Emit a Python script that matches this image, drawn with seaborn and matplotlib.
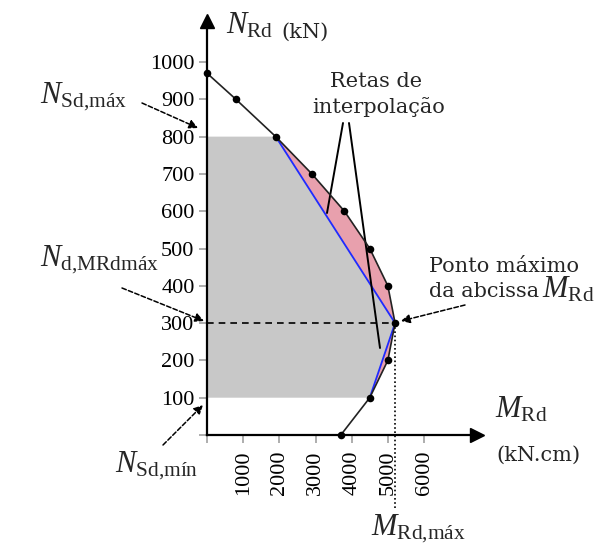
import matplotlib
matplotlib.use("Agg")
import matplotlib.pyplot as plt
import pandas as pd
import seaborn as sns

# Interaction curve N_Rd x M_Rd (M in kN.cm, N in kN)
M_Rd = [0, 800, 1900, 2900, 3800, 4500, 5000, 5200, 5000, 4500, 3700]
N_Rd = [970, 900, 800, 700, 600, 500, 400, 300, 200, 100, 0]

# Design axial force limits
N_Sd_max = 800
N_Sd_min = 100

x_ticks = [0, 1000, 2000, 3000, 4000, 5000, 6000]
x_tick_labels = ["", "1000", "2000", "3000", "4000", "5000", "6000"]
y_ticks = [0, 100, 200, 300, 400, 500, 600, 700, 800, 900, 1000]
y_tick_labels = ["", "100", "200", "300", "400", "500", "600", "700", "800", "900", "1000"]

sns.set_theme(style="ticks")
plt.rcParams["font.family"] = ["Liberation Serif", "DejaVu Serif"]
plt.rcParams["mathtext.fontset"] = "custom"
plt.rcParams["mathtext.rm"] = "Liberation Serif"
plt.rcParams["mathtext.it"] = "Liberation Serif:italic"
plt.rcParams["mathtext.bf"] = "Liberation Serif:bold"

W, H = 610, 544
fig = plt.figure(figsize=(W / 100, H / 100), dpi=100)
fig.patch.set_facecolor("white")

# axes frame placed in pixel units
ax = fig.add_axes([207 / W, 109 / H, 270 / W, 414 / H])
ax.set_xlim(0, 7465)
ax.set_ylim(0, 1110)
ax.set_facecolor("white")

df = pd.DataFrame({"M_Rd": M_Rd, "N_Rd": N_Rd})

i_top = N_Rd.index(N_Sd_max)
i_max = M_Rd.index(max(M_Rd))
i_bot = N_Rd.index(N_Sd_min)
M_max, N_mmax = M_Rd[i_max], N_Rd[i_max]

# interpolation lines through the curve points
blue_M = [M_Rd[i_top], M_max, M_Rd[i_bot]]
blue_N = [N_Rd[i_top], N_mmax, N_Rd[i_bot]]

# safe region under the interpolation lines
gray_M = [0, M_Rd[i_bot], M_max, M_Rd[i_top], 0]
gray_N = [N_Sd_min, N_Sd_min, N_mmax, N_Sd_max, N_Sd_max]
ax.fill(gray_M, gray_N, color="#c8c8c8", lw=0, zorder=1)

# region between the curve and the interpolation lines
pink_M = M_Rd[i_top:i_bot + 1] + [M_max]
pink_N = N_Rd[i_top:i_bot + 1] + [N_mmax]
ax.fill(pink_M, pink_N, color="#e8a0ad", lw=0, zorder=2)

sns.lineplot(x=blue_M, y=blue_N, sort=False, estimator=None, color="#1f2bff",
             lw=1.3, ax=ax, zorder=3)
sns.lineplot(data=df, x="M_Rd", y="N_Rd", sort=False, estimator=None,
             color="#222222", lw=1.2, ax=ax, zorder=4)
sns.scatterplot(data=df, x="M_Rd", y="N_Rd", color="black", s=30,
                edgecolor="black", linewidth=0, ax=ax, zorder=5, clip_on=False)

# guide lines at the maximum moment
ax.plot([0, M_max], [N_mmax, N_mmax], color="black", lw=1.2,
        ls=(0, (4, 3)), zorder=4)
ax.plot([M_max, M_max], [N_mmax, -195], color="black", lw=1.2,
        ls=(0, (1, 1.5)), zorder=4, clip_on=False)

ax.set_xticks(x_ticks)
ax.set_xticklabels(x_tick_labels, rotation=90)
ax.set_yticks(y_ticks)
ax.set_yticklabels(y_tick_labels)
ax.tick_params(axis="both", direction="out", length=6, width=1.2,
               color="#a0a0a0", labelsize=16, labelcolor="black")
ax.tick_params(axis="x", pad=5)
ax.tick_params(axis="y", pad=3)
for lab in ax.get_xticklabels():
    lab.set_va("top")
ax.set_xlabel("")
ax.set_ylabel("")

sns.despine(ax=ax)
for side in ("left", "bottom"):
    ax.spines[side].set_linewidth(1.6)
    ax.spines[side].set_color("black")

# axis arrow heads
ax.plot(1, 0, ">", color="black", ms=10, transform=ax.transAxes, clip_on=False)
ax.plot(0, 1, "^", color="black", ms=10, transform=ax.transAxes, clip_on=False)


def fp(x, y):
    return (x / W, 1 - y / H)


serif2 = ["DejaVu Serif"]
math_size = 22

fig.text(*fp(226, 33), r"$N_{\mathrm{Rd}}$", fontsize=math_size, va="baseline")
fig.text(*fp(281, 38), "(kN)", fontsize=15, family=serif2, va="baseline")

fig.text(*fp(495, 417), r"$M_{\mathrm{Rd}}$", fontsize=math_size, va="baseline")
fig.text(*fp(496, 461), "(kN.cm)", fontsize=15, family=serif2, va="baseline")

fig.text(*fp(371, 535), r"$M_{\mathrm{Rd{,}máx}}$", fontsize=math_size, va="baseline")

fig.text(*fp(40, 103), r"$N_{\mathrm{Sd{,}máx}}$", fontsize=math_size, va="baseline")
fig.text(*fp(40, 266), r"$N_{\mathrm{d{,}MRdmáx}}$", fontsize=math_size, va="baseline")
fig.text(*fp(115, 472), r"$N_{\mathrm{Sd{,}mín}}$", fontsize=math_size, va="baseline")

fig.text(*fp(376, 87), "Retas de", fontsize=15, family=serif2, ha="center", va="baseline")
fig.text(*fp(379, 113), "interpolação", fontsize=15, family=serif2, ha="center", va="baseline")

fig.text(*fp(429, 272), "Ponto máximo", fontsize=15, family=serif2, va="baseline")
fig.text(*fp(429, 297), "da abcissa", fontsize=15, family=serif2, va="baseline")
fig.text(*fp(542, 298), r"$M_{\mathrm{Rd}}$", fontsize=math_size, va="baseline")

arrow_kw = dict(arrowstyle="-|>", color="black", lw=1.1, mutation_scale=13,
                shrinkA=0, shrinkB=0, linestyle=(0, (3, 1.5)))
for start, end in [((142, 103), (198, 128)),
                   ((122, 288), (204, 321)),
                   ((163, 445), (203, 405)),
                   ((465, 305), (401, 321))]:
    ax.annotate("", xy=fp(*end), xycoords="figure fraction",
                xytext=fp(*start), textcoords="figure fraction",
                arrowprops=arrow_kw)

line_kw = dict(arrowstyle="-", color="black", lw=1.4, shrinkA=0, shrinkB=0)
for start, end in [((343, 123), (327, 213)),
                   ((349, 123), (380, 348))]:
    ax.annotate("", xy=fp(*end), xycoords="figure fraction",
                xytext=fp(*start), textcoords="figure fraction",
                arrowprops=line_kw)

fig.savefig("out.png", dpi=100, facecolor="white")
